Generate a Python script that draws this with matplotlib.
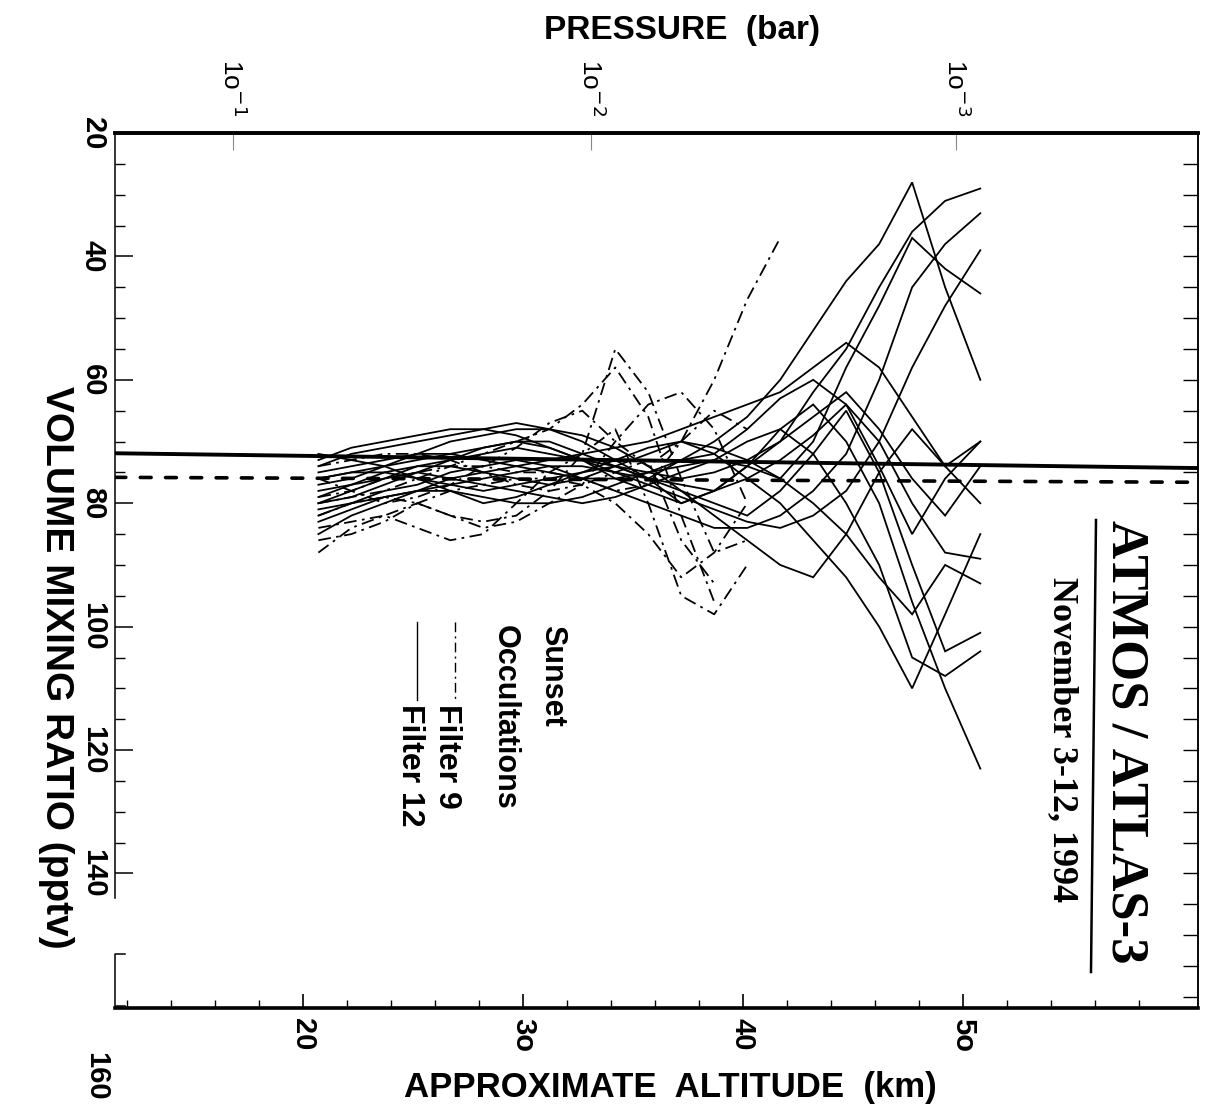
import matplotlib
matplotlib.use('Agg')
import matplotlib.pyplot as plt
from matplotlib.lines import Line2D

# altitude grids (km)
alt12 = [20.7, 22.2, 23.7, 25.2, 26.7, 28.2, 29.7, 31.2, 32.7, 34.2, 35.7,
         37.2, 38.7, 40.2, 41.7, 43.2, 44.7, 46.2, 47.7, 49.2, 50.8]
alt9 = [20.7, 22.2, 23.7, 25.2, 26.7, 28.2, 29.7, 31.2, 32.7, 34.2, 35.7,
        37.2, 38.7, 40.2, 41.7]

# Filter 12 profiles (pptv), solid
filter12 = [
    [80, 78, 76, 74, 73, 72, 71, 72, 73, 74, 75, 76, 75, 73, 70, 62, 55, 45, 36, 31, 29],
    [76, 75, 74, 73, 72, 71, 70, 70, 72, 74, 76, 73, 70, 66, 60, 52, 44, 38, 28, 45, 60],
    [82, 80, 78, 77, 75, 74, 73, 74, 76, 78, 80, 82, 84, 84, 82, 78, 72, 60, 45, 38, 33],
    [74, 72, 71, 70, 69, 68, 67, 68, 70, 73, 76, 80, 78, 74, 68, 64, 70, 80, 96, 110, 123],
    [78, 77, 75, 74, 74, 75, 76, 77, 76, 74, 72, 70, 72, 76, 80, 86, 92, 100, 110, 98, 85],
    [85, 82, 80, 78, 76, 75, 74, 73, 72, 71, 70, 68, 66, 64, 62, 58, 54, 58, 66, 74, 70],
    [72, 73, 74, 76, 78, 80, 79, 77, 75, 74, 76, 78, 80, 82, 78, 72, 65, 75, 90, 104, 101],
    [79, 77, 76, 75, 76, 77, 78, 79, 80, 79, 77, 75, 73, 70, 68, 72, 80, 90, 105, 108, 104],
    [73, 71, 70, 69, 68, 68, 69, 71, 73, 75, 77, 79, 81, 83, 84, 82, 78, 70, 58, 48, 39],
    [81, 80, 79, 78, 77, 76, 75, 74, 74, 75, 76, 77, 78, 76, 73, 69, 64, 70, 80, 88, 89],
    [77, 76, 74, 72, 70, 69, 68, 68, 69, 71, 74, 78, 82, 86, 90, 92, 85, 75, 68, 74, 80],
    [75, 74, 73, 72, 72, 73, 74, 75, 76, 76, 75, 73, 72, 68, 63, 60, 64, 74, 85, 76, 70],
    [83, 81, 79, 78, 78, 79, 80, 80, 79, 77, 75, 74, 73, 74, 76, 80, 85, 92, 98, 90, 93],
    [76, 75, 75, 76, 77, 78, 77, 76, 75, 73, 71, 70, 71, 73, 76, 70, 58, 48, 37, 42, 46],
    [80, 79, 77, 75, 73, 71, 70, 71, 73, 76, 78, 80, 78, 74, 70, 66, 62, 68, 76, 82, 74],
]

# Filter 9 profiles (pptv), dash-dot
filter9 = [
    [79, 78, 76, 75, 74, 74, 75, 75, 76, 78, 77, 70, 60, 47, 37],
    [88, 84, 82, 80, 82, 83, 82, 78, 72, 55, 62, 76, 88, 86],
    [84, 83, 82, 84, 86, 85, 80, 75, 72, 68, 80, 95, 98, 90],
    [80, 79, 78, 76, 74, 72, 70, 68, 64, 58, 66, 82, 96],
    [86, 85, 83, 80, 78, 77, 76, 76, 77, 80, 85, 92, 88, 80],
    [76, 78, 80, 79, 77, 74, 71, 67, 65, 70, 74, 70, 65, 68],
    [82, 80, 79, 80, 82, 84, 83, 80, 77, 75, 73, 86, 93],
    [74, 73, 72, 72, 73, 75, 77, 78, 77, 70, 64, 62, 68, 80],
]

# mean lines
fit_alt = [11.45, 60.7]
fit12_vmr = [71.9, 74.3]
fit9_vmr = [75.8, 76.6]

yticks = [20, 40, 60, 80, 100, 120, 140]
xticks = [20, 30, 40, 50]
xticklabels = ['20', '3o', '40', '5o']
p_ticks = [16.8, 33.1, 49.7]
p_labels = [r'1o$^{-1}$', r'1o$^{-2}$', r'1o$^{-3}$']

W, H = 1211, 1116
fig = plt.figure(figsize=(W / 100, H / 100), dpi=100)
SANS = 'Liberation Sans'
SERIF = 'Liberation Serif'


def fx(px):
    return px / W


def fy(py):
    return 1 - py / H


ax = fig.add_axes([fx(115), fy(1008), fx(1198) - fx(115), fy(133) - fy(1008)])
ax.set_xlim(11.45, 60.7)
ax.set_ylim(161.8, 20)

for prof in filter12:
    ax.plot(alt12[:len(prof)], prof, color='black', lw=1.3, solid_joinstyle='miter')
for prof in filter9:
    ax.plot(alt9[:len(prof)], prof, color='black', lw=1.3, linestyle=(0, (7, 3, 1.5, 3)))

ax.plot(fit_alt, fit12_vmr, color='black', lw=2.8)
ax.plot(fit_alt, fit9_vmr, color='black', lw=2.6, linestyle=(0, (3, 4)), dash_capstyle='round')

# spines
ax.spines['top'].set_linewidth(2.6)
ax.spines['bottom'].set_linewidth(2.6)
ax.spines['left'].set_linewidth(1.1)
ax.spines['right'].set_linewidth(1.1)
ax.spines['left'].set_bounds(20, 144)
ax.plot([0.009, 0, 0, 0.009], [153, 153, 161.5, 161.5], color='black', lw=1.1,
        transform=ax.get_yaxis_transform(), clip_on=False)

# bottom altitude ticks
ax.set_xticks(xticks)
ax.set_xticklabels(xticklabels, rotation=-90, fontsize=21, fontweight='bold', family=SANS)
ax.set_xticks(list(range(12, 60, 2)), minor=True)
ax.tick_params(axis='x', which='major', direction='in', length=10, width=1.2, pad=7)
ax.tick_params(axis='x', which='minor', direction='in', length=6, width=1.0)

# left mixing ratio ticks
ax.set_yticks(yticks)
ax.set_yticklabels([str(v) for v in yticks], rotation=-90, fontsize=21, fontweight='bold',
                   family=SANS, va='center')
ax.set_yticks(list(range(25, 145, 5)), minor=True)
ax.tick_params(axis='y', which='major', direction='in', length=13, width=1.1, pad=6)
ax.tick_params(axis='y', which='minor', direction='in', length=7, width=1.0)
ax.text(-0.017, 172.8, '160', rotation=-90, fontsize=21, fontweight='bold', family=SANS,
        ha='center', va='center', transform=ax.get_yaxis_transform(), clip_on=False)

# right ticks
rax = ax.secondary_yaxis('right')
rax.set_yticks(list(range(20, 165, 5)))
rax.tick_params(direction='in', length=11, width=1.0, labelright=False)
rax.spines['right'].set_linewidth(1.1)

# top pressure ticks
tax = ax.secondary_xaxis('top')
tax.set_xticks(p_ticks)
tax.set_xticklabels(p_labels, rotation=-90, fontsize=19, family=SANS)
tax.tick_params(direction='in', length=12, width=0.8, color='#888888', pad=12)
tax.spines['top'].set_linewidth(2.6)

# axis titles
fig.text(fx(682), fy(31), 'PRESSURE  (bar)', ha='center', va='center', fontsize=24,
         fontweight='bold', family=SANS)
fig.text(fx(670), fy(1088), 'APPROXIMATE  ALTITUDE  (km)', ha='center', va='center',
         fontsize=25, fontweight='bold', family=SANS)
fig.text(fx(56), fy(667), 'VOLUME MIXING RATIO (pptv)', ha='center', va='center',
         rotation=-90, fontsize=28, fontweight='bold', family=SANS)

# legend
fig.text(fx(552), fy(625), 'Sunset', rotation=-90, ha='center', va='top', fontsize=22,
         fontweight='bold', family=SANS)
fig.text(fx(505), fy(625), 'Occultations', rotation=-90, ha='center', va='top', fontsize=22,
         fontweight='bold', family=SANS)
fig.text(fx(447), fy(704), 'Filter 9', rotation=-90, ha='center', va='top', fontsize=23,
         fontweight='bold', family=SANS)
fig.text(fx(410), fy(704), 'Filter 12', rotation=-90, ha='center', va='top', fontsize=23,
         fontweight='bold', family=SANS)
fig.add_artist(Line2D([fx(455), fx(455)], [fy(622), fy(700)], color='black', lw=1.0,
                      linestyle=(0, (7, 3, 1.5, 3))))
fig.add_artist(Line2D([fx(417), fx(417)], [fy(622), fy(700)], color='black', lw=1.0))

# title block
fig.text(fx(1126), fy(520), 'ATMOS / ATLAS-3', rotation=-90, ha='center', va='top',
         fontsize=38, fontweight='bold', family=SERIF)
fig.add_artist(Line2D([fx(1096), fx(1091)], [fy(520), fy(972)], color='black', lw=1.8))
fig.text(fx(1062), fy(577), 'November 3-12, 1994', rotation=-90, ha='center', va='top',
         fontsize=26, fontweight='bold', family=SERIF)

fig.savefig('out.png', dpi=100)
